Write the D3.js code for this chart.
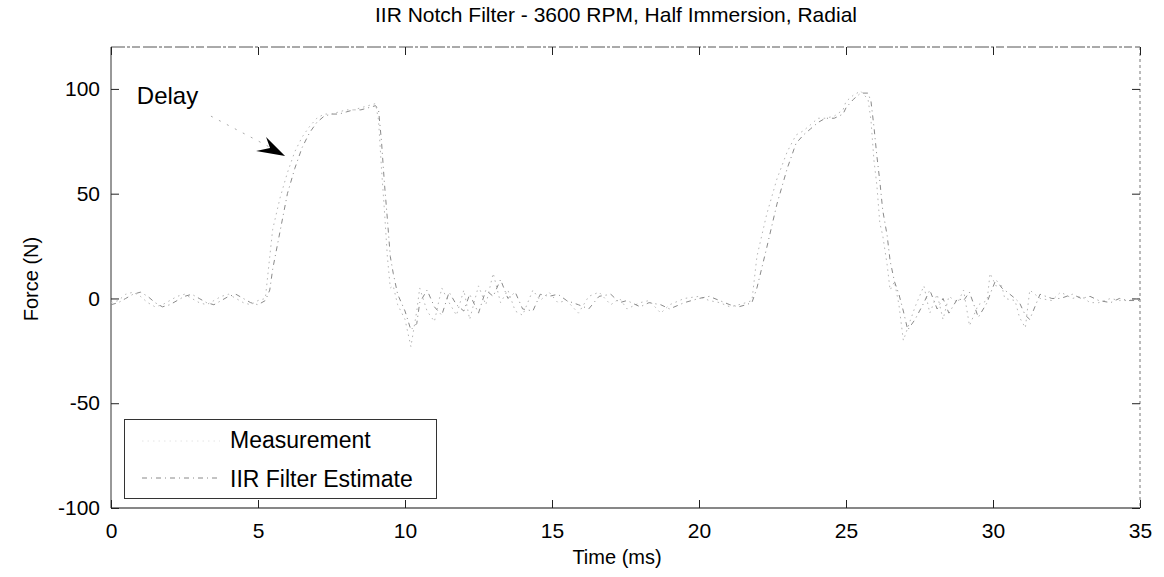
<!DOCTYPE html>
<html><head><meta charset="utf-8">
<script src="https://cdn.jsdelivr.net/npm/d3@7"></script>
<style>body{margin:0;background:#fff;font-family:"Liberation Sans",Arial,sans-serif;}</style>
</head><body><svg id="c" width="1164" height="577"></svg>
<script>
const title = "IIR Notch Filter - 3600 RPM, Half Immersion, Radial";
const xLabel = "Time (ms)";
const yLabel = "Force (N)";
const seriesNames = ["Measurement", "IIR Filter Estimate"];
const xTicks = [0,5,10,15,20,25,30,35];
const yTicks = [-100,-50,0,50,100];
const time = [0,0.25,0.5,0.75,1,1.25,1.5,1.75,2,2.25,2.5,2.75,3,3.25,3.5,3.75,4,4.25,4.5,4.75,5,5.25,
 5.4,5.5,5.75,6,6.25,6.5,6.75,7,7.25,7.5,7.75,8,8.25,8.5,8.75,9,9.1,9.2,9.3,9.4,9.5,9.6,9.75,
 10,10.2,10.4,10.5,10.75,11,11.25,11.5,11.75,12,12.2,12.5,12.75,13,13.25,13.5,13.75,14,14.35,14.6,14.9,
 15.2,15.5,15.9,16.25,16.6,17,17.3,17.55,18,18.3,18.7,19,19.5,20,20.35,20.7,21.05,21.35,21.6,21.8,
 21.97,22.3,22.65,23,23.3,23.55,23.8,24.05,24.3,24.6,24.9,25,25.25,25.5,25.75,25.85,25.95,26.05,26.15,26.25,26.4,26.5,
 26.65,26.8,26.95,27.1,27.35,27.65,27.85,28.1,28.3,28.5,28.8,29,29.2,29.5,29.8,29.9,30.1,30.3,30.4,30.75,30.9,31.1,31.25,
 31.6,32,32.3,32.7,33,33.3,33.6,34,34.3,34.6,35];
const measurement = [-2,-1,2,3,1,-2,-4,-3,-1,1,2,0,-2,-3,-1,1,2,0,-2,-3,-1,0,
 20,33,48,60,70,77,82,86,88,88,89,90,90,91,92,93,85,62,42,20,5,6,-3,
 -10,-23,-6,5,-6,-11,5,-2,-8,4,-10,6,-3,12,-2,4,-6,-8,4,-1,3,
 -2,-1,-7,1,3,-3,0,-5,-2,-1,-7,-3,0,1,-1,-2,-4,-3,-2,-1,
 20,40,57,70,78,80,83,86,86,87,90,94,97,99,95,85,66,54,36,30,16,4,
 8,-3,-20,-14,-4,6,-7,2,-10,1,-2,4,-13,-3,-1,12,6,6,0,-1,-9,-14,4,
 0,-1,3,0,1,-2,-2,0,-1,-1,0];
const estimate = [-3,-2,0,2,3,1,-2,-4,-3,-1,1,2,0,-2,-3,-1,1,2,0,-2,-3,-1,
 4,14,32,50,62,72,79,84,87,88,88,89,90,90,91,92,90,75,55,38,20,12,2,
 -6,-15,-12,-2,4,-4,-8,3,-3,-6,2,-7,4,1,9,0,3,-5,-6,2,1,
 2,-1,-3,-5,1,2,-2,-1,-4,-2,-3,-5,-2,0,1,-1,-3,-4,-3,-2,
 5,24,45,62,74,78,81,84,86,86,88,91,95,98,98,94,82,68,56,42,30,18,
 8,2,-6,-15,-10,-2,4,-5,0,-7,0,-1,3,-9,-2,2,9,5,4,0,-2,-8,-10,
 2,0,0,2,0,1,-1,-2,0,-1,-1];
const annotationText = "Delay";

const svg = d3.select("#c");
const W = 1164, H = 577;
const m = {left:111, right:24, top:47, bottom:69};
const x = d3.scaleLinear().domain([0,35]).range([m.left, W-m.right]);
const y = d3.scaleLinear().domain([-100,120]).range([H-m.bottom, m.top]);
const font = "Liberation Sans, Arial, sans-serif";
const fmt = d => String(d);

// frame (top/right faded like scan)
svg.append("line").attr("x1",x(0)).attr("x2",x(35)).attr("y1",y(120)).attr("y2",y(120))
  .attr("stroke","#555").attr("stroke-width",1).attr("stroke-dasharray","14,2,3,2,8,3");
svg.append("line").attr("x1",x(35)).attr("x2",x(35)).attr("y1",y(120)).attr("y2",y(-100))
  .attr("stroke","#777").attr("stroke-width",1).attr("stroke-dasharray","3,3");
svg.append("line").attr("x1",x(0)).attr("x2",x(0)).attr("y1",y(120)).attr("y2",y(-100))
  .attr("stroke","#333").attr("stroke-width",1);
svg.append("line").attr("x1",x(0)).attr("x2",x(35)).attr("y1",y(-100)).attr("y2",y(-100))
  .attr("stroke","#111").attr("stroke-width",1.2);

// axes
const xa = svg.append("g").attr("transform",`translate(0,${y(-100)})`)
  .call(d3.axisBottom(x).tickValues(xTicks).tickFormat(fmt).tickSizeInner(-8).tickSizeOuter(0).tickPadding(15));
const xt = svg.append("g").attr("transform",`translate(0,${y(120)})`)
  .call(d3.axisTop(x).tickValues(xTicks).tickSizeInner(-8).tickSizeOuter(0).tickFormat(""));
const ya = svg.append("g").attr("transform",`translate(${x(0)},0)`)
  .call(d3.axisLeft(y).tickValues(yTicks).tickFormat(fmt).tickSizeInner(-8).tickSizeOuter(0).tickPadding(11));
const yr = svg.append("g").attr("transform",`translate(${x(35)},0)`)
  .call(d3.axisRight(y).tickValues(yTicks).tickSizeInner(-8).tickSizeOuter(0).tickFormat(""));
[xa,xt,ya,yr].forEach(g=>{g.select(".domain").remove();
  g.selectAll("line").attr("stroke","#222");
  g.selectAll("text").attr("font-family",font).attr("font-size",21).attr("fill","#000");});

// lines
const line = d3.line().x((d,i)=>x(time[i])).y(d=>y(d));
svg.append("path").datum(measurement).attr("d",line).attr("fill","none")
  .attr("stroke","#b5b5b5").attr("stroke-width",1).attr("stroke-dasharray","1.5,4");
svg.append("path").datum(estimate).attr("d",line).attr("fill","none")
  .attr("stroke","#8a8a8a").attr("stroke-width",1).attr("stroke-dasharray","5,4,1,4");

// title & labels
svg.append("text").attr("x",616).attr("y",22).attr("text-anchor","middle")
  .attr("font-family",font).attr("font-size",21).text(title);
svg.append("text").attr("x",617).attr("y",564).attr("text-anchor","middle")
  .attr("font-family",font).attr("font-size",20).text(xLabel);
svg.append("text").attr("transform","translate(38,279) rotate(-90)").attr("text-anchor","middle")
  .attr("font-family",font).attr("font-size",20).text(yLabel);

// annotation
svg.append("text").attr("x",x(0.88)).attr("y",y(97)+9).attr("font-family",font)
  .attr("font-size",24).text(annotationText);
const tip = [x(5.92), y(68)];
svg.append("line").attr("x1",x(3.4)).attr("y1",y(87)).attr("x2",tip[0]-8).attr("y2",tip[1]-5)
  .attr("stroke","#aaa").attr("stroke-width",1).attr("stroke-dasharray","2,7");
svg.append("path").attr("d",`M${tip[0]},${tip[1]} L${tip[0]-19},${tip[1]-19} L${tip[0]-15},${tip[1]-8} L${tip[0]-29},${tip[1]-5} Z`)
  .attr("fill","#000");

// legend
const lg = svg.append("g");
lg.append("rect").attr("x",124.5).attr("y",419.5).attr("width",312).attr("height",79)
  .attr("fill","#fff").attr("stroke","#333").attr("stroke-width",1);
lg.append("line").attr("x1",142).attr("x2",220).attr("y1",441).attr("y2",441)
  .attr("stroke","#e4e4e4").attr("stroke-width",1).attr("stroke-dasharray","1.5,4");
lg.append("line").attr("x1",142).attr("x2",220).attr("y1",478).attr("y2",478)
  .attr("stroke","#888").attr("stroke-width",1).attr("stroke-dasharray","5,4,1,4");
lg.append("text").attr("x",230).attr("y",448).attr("font-family",font).attr("font-size",23).text(seriesNames[0]);
lg.append("text").attr("x",230).attr("y",487).attr("font-family",font).attr("font-size",23).text(seriesNames[1]);
</script></body></html>
